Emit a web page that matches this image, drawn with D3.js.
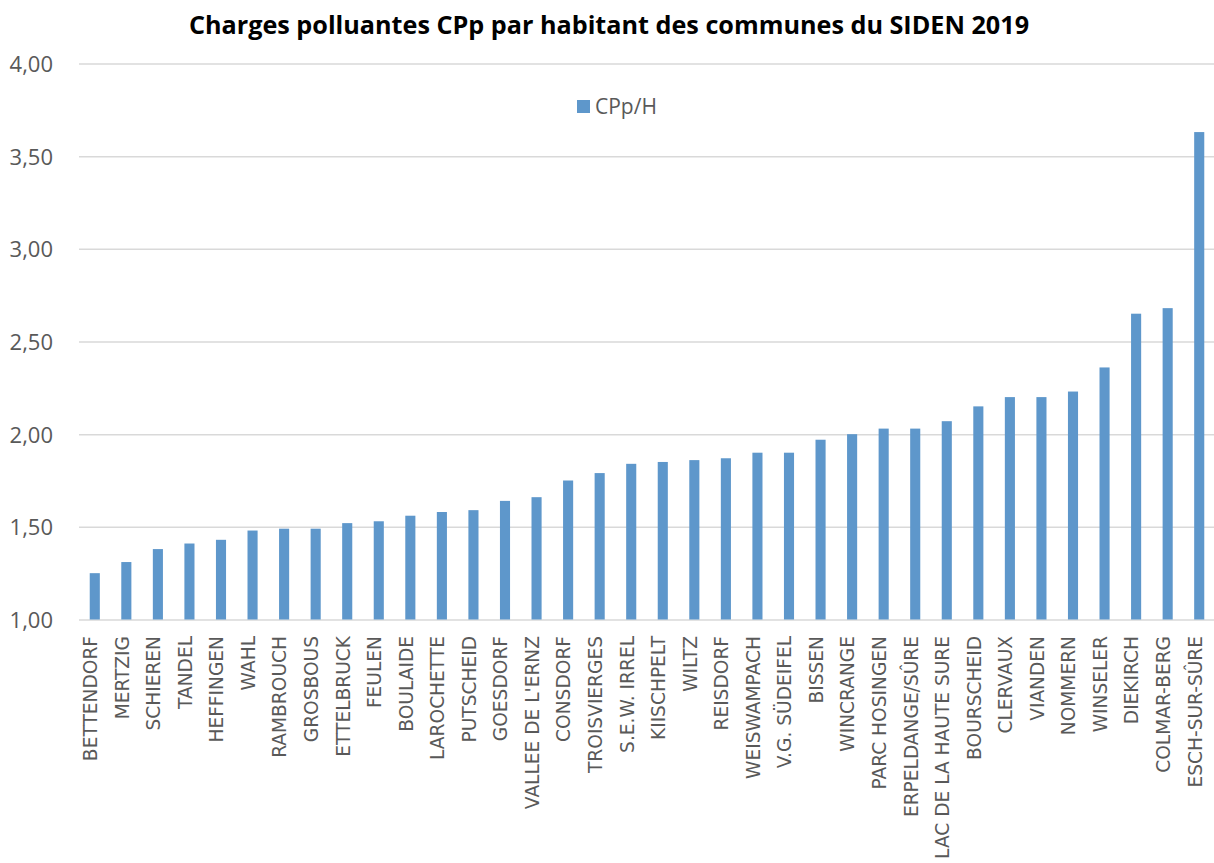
<!DOCTYPE html>
<html><head><meta charset="utf-8">
<script src="https://cdn.jsdelivr.net/npm/d3@7"></script>
<style>body{margin:0;background:#fff;} text{font-family:"Open Sans","Noto Sans",sans-serif;} .xl text{font-family:"DejaVu Sans",sans-serif;}</style>
</head><body><svg id="c" width="1214" height="863"></svg>
<script>
const categories = ["BETTENDORF","MERTZIG","SCHIEREN","TANDEL","HEFFINGEN","WAHL","RAMBROUCH","GROSBOUS","ETTELBRUCK","FEULEN","BOULAIDE","LAROCHETTE","PUTSCHEID","GOESDORF","VALLEE DE L'ERNZ","CONSDORF","TROISVIERGES","S.E.W. IRREL","KIISCHPELT","WILTZ","REISDORF","WEISWAMPACH","V.G. SÜDEIFEL","BISSEN","WINCRANGE","PARC HOSINGEN","ERPELDANGE/SÛRE","LAC DE LA HAUTE SURE","BOURSCHEID","CLERVAUX","VIANDEN","NOMMERN","WINSELER","DIEKIRCH","COLMAR-BERG","ESCH-SUR-SÛRE"];
const values = [1.25,1.31,1.38,1.41,1.43,1.48,1.49,1.49,1.52,1.53,1.56,1.58,1.59,1.64,1.66,1.75,1.79,1.84,1.85,1.86,1.87,1.90,1.90,1.97,2.00,2.03,2.03,2.07,2.15,2.20,2.20,2.23,2.36,2.65,2.68,3.63];
const yTicks = [1.0,1.5,2.0,2.5,3.0,3.5,4.0];
const seriesName = "CPp/H";
const title = "Charges polluantes CPp par habitant des communes du SIDEN 2019";

const svg = d3.select("#c");
const mLeft = 79, mRight = 1215, mTop = 63.5, mBottom = 619.5;
const x = d3.scaleBand().domain(categories).range([mLeft, mRight]).paddingInner(0.68).paddingOuter(0.34);
const y = d3.scaleLinear().domain([1,4]).range([mBottom, mTop]);
const fmt = v => d3.format(".2f")(v).replace(".", ",");

svg.append("text").attr("x", 609).attr("y", 34).attr("text-anchor","middle")
  .style("font-size","25.2px").style("font-weight","bold").attr("fill","#000").text(title);

const yAxis = d3.axisLeft(y).tickValues(yTicks).tickSize(-(mRight-mLeft)).tickFormat(fmt).tickPadding(26);
const gy = svg.append("g").attr("transform",`translate(${mLeft},0)`).call(yAxis);
gy.select(".domain").remove();
gy.selectAll(".tick line").attr("stroke","#d9d9d9").attr("stroke-width",1.5);
gy.selectAll(".tick text").attr("fill","#595959").style("font-size","22px").attr("dy","0.36em");

svg.append("g").selectAll("rect").data(values).join("rect")
  .attr("x",(d,i)=>x(categories[i])).attr("width",x.bandwidth())
  .attr("y",d=>y(d)).attr("height",d=>y(1)-y(d))
  .attr("fill","#5e97cb");

const xAxis = d3.axisBottom(x).tickSize(0).tickPadding(0);
const gx = svg.append("g").attr("class","xl").attr("transform",`translate(0,${mBottom})`).call(xAxis);
gx.select(".domain").remove();
gx.selectAll(".tick text").attr("fill","#595959").style("font-size","18.6px")
  .attr("text-anchor","end").attr("dy",null).attr("y",0)
  .attr("transform","translate(2.3,16.5) rotate(-90)");

const lg = svg.append("g");
lg.append("rect").attr("x",577).attr("y",100).attr("width",13).attr("height",13).attr("fill","#5e97cb");
lg.append("text").attr("x",595).attr("y",114).attr("fill","#595959").style("font-size","21px").text(seriesName);
</script></body></html>
